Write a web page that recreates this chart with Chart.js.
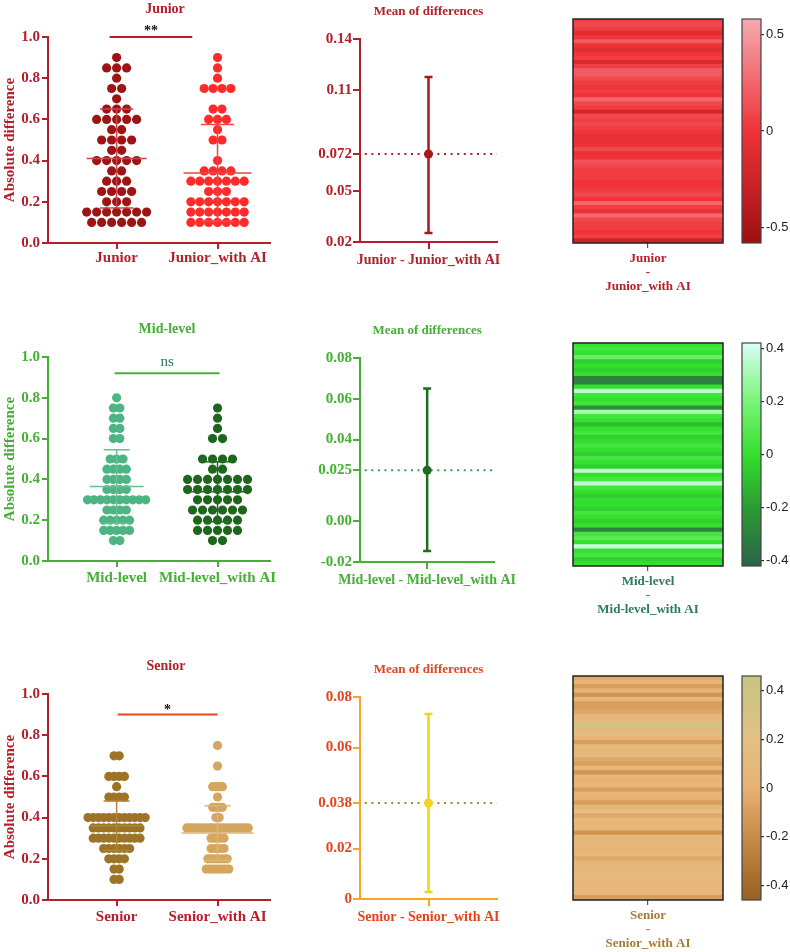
<!DOCTYPE html>
<html>
<head>
<meta charset="utf-8">
<script src="https://cdn.jsdelivr.net/npm/chart.js@4.4.1/dist/chart.umd.min.js"></script>
<style>
  html, body { margin: 0; padding: 0; background: #fff; }
  body { position: relative; width: 790px; height: 952px; overflow: hidden; }
  canvas { position: absolute; }
</style>
</head>
<body>
<script>
// ---- data ----
const levels = [0.1, 0.15, 0.2, 0.25, 0.3, 0.35, 0.4, 0.45, 0.5, 0.55, 0.6, 0.65, 0.7, 0.75, 0.8, 0.85, 0.9];

// number of subjects at each level (one dot each)
const juniorCounts   = [6, 7, 3, 4, 3, 2, 5, 2, 4, 2, 5, 3, 1, 2, 1, 3, 1];
const juniorAICounts = [7, 7, 7, 3, 7, 4, 1, 0, 2, 1, 3, 2, 0, 4, 1, 1, 1];
const midCounts      = [2, 5, 5, 4, 10, 4, 4, 4, 3, 0, 2, 2, 2, 2, 1, 0, 0];
const midAICounts    = [2, 5, 5, 6, 5, 7, 7, 2, 4, 0, 2, 1, 1, 1, 0, 0, 0];
const seniorCounts   = [2, 2, 4, 6, 10, 10, 12, 0, 4, 1, 4, 0, 2, 0, 0, 0, 0];
const seniorAICounts = [0, 8, 7, 5, 5, 20, 2, 4, 1, 4, 0, 1, 0, 1, 0, 0, 0];

const juniorMeans = [0.41, 0.34];
const juniorSDs   = [0.24, 0.235];
const midMeans    = [0.365, 0.34];
const midSDs      = [0.18, 0.147];
const seniorMeans = [0.36, 0.325];
const seniorSDs   = [0.12, 0.133];

const panelTitles = ['Junior', 'Mid-level', 'Senior'];
const groupNames  = [['Junior', 'Junior_with AI'], ['Mid-level', 'Mid-level_with AI'], ['Senior', 'Senior_with AI']];
const sigMarks    = ['**', 'ns', '*'];
const sigLevels   = [1.0, 0.92, 0.9];

// mean of differences with 95% CI
const diffMeans = [0.072, 0.025, 0.038];
const diffLows  = [0.0253, -0.0146, 0.0028];
const diffHighs = [0.1175, 0.065, 0.0733];
const juniorDiffTicks = [0.02, 0.05, 0.072, 0.11, 0.14];
const juniorDiffTickLabels = ['0.02', '0.05', '0.072', '0.11', '0.14'];
const midDiffTicks = [-0.02, 0, 0.025, 0.04, 0.06, 0.08];
const midDiffTickLabels = ['-0.02', '0.00', '0.025', '0.04', '0.06', '0.08'];
const seniorDiffTicks = [0, 0.02, 0.038, 0.06, 0.08];
const seniorDiffTickLabels = ['0', '0.02', '0.038', '0.06', '0.08'];

// per-subject differences (heatmap rows, top to bottom)
const juniorDiffs = [0.05, 0.1, 0.05, -0.1, 0.0, 0.2, 0.0, -0.1, 0.0, 0.05, -0.15, 0.05, 0.2, 0.2, 0.1, 0.05, 0.0, 0.05,
  0.0, 0.25, 0.1, 0.05, -0.2, 0.1, 0.05, 0.1, 0.05, 0.0, -0.05, -0.05, 0.0, 0.1, -0.05, 0.0, 0.15, 0.1, 0.05, 0.05,
  0.05, 0.0, 0.0, 0.05, 0.1, 0.0, 0.25, 0.05, -0.05, 0.25, 0.1, 0.05, 0.05, 0.0, 0.05, -0.25];
const midDiffs = [0.0, 0.05, 0.0, 0.15, -0.05, 0.0, -0.05, 0.0, -0.3, -0.3, 0.0, 0.35, 0.05, 0.0, 0.05, -0.25, 0.3,
  0.05, 0.0, -0.1, 0.0, 0.05, -0.05, 0.0, 0.05, 0.0, -0.05, 0.05, 0.0, -0.05, 0.35, 0.0, 0.05, 0.35, 0.05, 0.0,
  -0.05, 0.0, 0.0, -0.05, 0.05, 0.0, -0.05, 0.0, -0.3, 0.05, 0.1, 0.0, 0.4, 0.0, 0.05, -0.05, 0.0];
const seniorDiffs = [-0.05, 0.05, -0.1, 0.0, -0.15, 0.05, -0.1, -0.1, -0.05, 0.05, 0.1, 0.4, 0.1, 0.15, 0.05, -0.1,
  0.1, 0.05, 0.1, -0.05, -0.1, 0.05, -0.15, 0.05, 0.0, 0.05, -0.1, 0.05, 0.0, -0.1, 0.05, 0.2, -0.05, 0.1, 0.05,
  0.05, -0.15, 0.05, 0.1, 0.05, 0.0, 0.1, -0.05, 0.05, 0.1, 0.05, 0.1, 0.1, 0.05, 0.1, 0.05, -0.1];

const colorbarRanges = [0.58, 0.42, 0.46];
const colorbarTicks = [[-0.5, 0, 0.5], [-0.4, -0.2, 0, 0.2, 0.4], [-0.4, -0.2, 0, 0.2, 0.4]];

// ---- styles ----
Chart.defaults.font.family = "'Liberation Serif', 'Times New Roman', serif";
Chart.defaults.font.weight = 'bold';
Chart.defaults.animation = false;
Chart.defaults.plugins.legend.display = false;
Chart.defaults.plugins.tooltip.enabled = false;

const rowStyle = [
  { top: 0, axis: '#b3202a', title: '#b3202a', dots: ['#9e1414', '#ff2a2a'], lines: ['#c9464c', '#f24444'],
    steps: [0.099, 0.088], meanHalf: [30, 34], cap: [16.7, 16.7], sig: { from: -0.07, to: 0.75, color: '#b3202a', text: '#111', gap: 2, font: 'bold 14px "Liberation Serif"' },
    sPad: 37, sXh: 37, sXpad: 0, titleDx: 6,
    dAxis: '#b3202a', dText: '#b3202a', dMark: '#a8181c', dDot: '#b3202a', dPad: 39, dXh: 38,
    stops: [[-0.58, '#9e0f12'], [0, '#ef3339'], [0.58, '#f5aab0']], hLabel: '#b3202a', hPad: 19, hH: 300, hXh: 57, cPad: 19, cBot: 17 },
  { top: 320, axis: '#45b035', title: '#45b035', dots: ['#4db583', '#1f661d'], lines: ['#62c292', '#216b21'],
    steps: [0.064, 0.099], meanHalf: [27, 27], cap: [13, 13], sig: { from: -0.02, to: 1.02, color: '#45b035', text: '#2f7060', gap: 7, font: 'normal 15px "Liberation Serif"' },
    sPad: 37, sXh: 39, sXpad: 2, titleDx: 8,
    dAxis: '#45b035', dText: '#45b035', dMark: '#1f6b1f', dDot: '#3c9a50', dPad: 38, dXh: 38,
    stops: [[-0.42, '#2b6449'], [-0.2, '#2c9b33'], [0, '#33e02e'], [0.2, '#7af47a'], [0.42, '#d8fff2']], hLabel: '#2e7a5a', hPad: 23, hH: 310, hXh: 64, cPad: 23, cBot: 14 },
  { top: 656, axis: '#b3202a', title: '#b3202a', dots: ['#9d7427', '#d4a65e'], lines: ['#ad8536', '#dcb577'],
    steps: [0.0515, 0.032], meanHalf: [26, 36], cap: [13, 13], sig: { from: 0.01, to: 1.0, color: '#e04a1c', text: '#111', gap: 1, font: 'bold 14px "Liberation Serif"' },
    sPad: 38, sXh: 36, sXpad: 2, titleDx: 7,
    dAxis: '#f5a623', dText: '#e3461e', dMark: '#f2d41e', dDot: '#9a8a3c', dPad: 41, dXh: 37,
    stops: [[-0.46, '#966020'], [-0.2, '#c68b48'], [0, '#e8b274'], [0.2, '#e2c084'], [0.46, '#c6c580']], hLabel: '#a77a3a', hPad: 20, hH: 296, hXh: 52, cPad: 20, cBot: 16 }
];

function makeCanvas(left, top, w, h) {
  const c = document.createElement('canvas');
  c.width = w; c.height = h;
  c.style.left = left + 'px'; c.style.top = top + 'px';
  c.style.width = w + 'px'; c.style.height = h + 'px';
  document.body.appendChild(c);
  return c.getContext('2d');
}

// dots of a scatter dot plot, centred on their category
function swarm(counts, cat, step) {
  const pts = [];
  counts.forEach((n, i) => {
    for (let k = 0; k < n; k++) pts.push({ x: cat + (k - (n - 1) / 2) * step, y: levels[i] });
  });
  return pts;
}

function hexToRgb(h) {
  return [parseInt(h.slice(1, 3), 16), parseInt(h.slice(3, 5), 16), parseInt(h.slice(5, 7), 16)];
}
function colorAt(stops, v) {
  if (v <= stops[0][0]) return stops[0][1];
  for (let i = 1; i < stops.length; i++) {
    if (v <= stops[i][0]) {
      const t = (v - stops[i - 1][0]) / (stops[i][0] - stops[i - 1][0]);
      const a = hexToRgb(stops[i - 1][1]), b = hexToRgb(stops[i][1]);
      return 'rgb(' + a.map((c, j) => Math.round(c + (b[j] - c) * t)).join(',') + ')';
    }
  }
  return stops[stops.length - 1][1];
}

// extra marks: titles, mean/SD bars, significance bar, boxes
function overlay(cfg) {
  return {
    id: 'overlay',
    beforeDatasetsDraw(chart) {
      if (!cfg.gradient) return;
      const { ctx, chartArea: a, scales: { y } } = chart;
      const g = ctx.createLinearGradient(0, a.bottom, 0, a.top);
      const span = y.max - y.min;
      cfg.gradient.forEach(s => g.addColorStop(Math.min(1, Math.max(0, (s[0] - y.min) / span)), s[1]));
      ctx.save();
      ctx.fillStyle = g;
      ctx.fillRect(a.left, a.top, a.right - a.left, a.bottom - a.top);
      ctx.restore();
    },
    afterDatasetsDraw(chart) {
      const { ctx, chartArea: a, scales: { x, y } } = chart;
      ctx.save();
      (cfg.bars || []).forEach(b => {
        const cx = x.getPixelForValue(b.x);
        const yl = y.getPixelForValue(b.lo), yh = y.getPixelForValue(b.hi);
        ctx.strokeStyle = b.color; ctx.lineWidth = b.width;
        ctx.beginPath();
        ctx.moveTo(cx, yl); ctx.lineTo(cx, yh);
        ctx.moveTo(cx - b.cap, yl); ctx.lineTo(cx + b.cap, yl);
        ctx.moveTo(cx - b.cap, yh); ctx.lineTo(cx + b.cap, yh);
        if (b.mid !== undefined) {
          const ym = y.getPixelForValue(b.mid);
          ctx.moveTo(cx - b.midHalf, ym); ctx.lineTo(cx + b.midHalf, ym);
        }
        ctx.stroke();
      });
      if (cfg.sig) {
        const s = cfg.sig;
        const ys = y.getPixelForValue(s.level);
        const x0 = x.getPixelForValue(s.from), x1 = x.getPixelForValue(s.to);
        ctx.strokeStyle = s.color; ctx.lineWidth = 2;
        ctx.beginPath(); ctx.moveTo(x0, ys); ctx.lineTo(x1, ys); ctx.stroke();
        ctx.fillStyle = s.textColor; ctx.font = s.font;
        ctx.textAlign = 'center'; ctx.textBaseline = 'alphabetic';
        ctx.fillText(s.text, (x0 + x1) / 2, ys - s.gap);
      }
      if (cfg.title) {
        ctx.fillStyle = cfg.title.color; ctx.font = cfg.title.font;
        ctx.textAlign = 'center'; ctx.textBaseline = 'middle';
        ctx.fillText(cfg.title.text, (a.left + a.right) / 2 + (cfg.title.dx || 0), a.top - cfg.title.lift);
      }
      if (cfg.box) {
        ctx.strokeStyle = cfg.box; ctx.lineWidth = cfg.boxWidth || 1.5;
        ctx.strokeRect(a.left, a.top, a.right - a.left, a.bottom - a.top);
      }
      ctx.restore();
    }
  };
}

function axisStyle(color, tickLength) {
  return {
    grid: { drawOnChartArea: false, drawTicks: true, tickLength: tickLength, color: color, lineWidth: 2 },
    border: { color: color, width: 2 }
  };
}

// ---- left column: scatter dot plots ----
function scatterPanel(r, counts, means, sds) {
  const st = rowStyle[r];
  const ctx = makeCanvas(0, st.top, 290, 280);
  const names = groupNames[r];
  new Chart(ctx, {
    type: 'scatter',
    data: {
      datasets: [0, 1].map(g => ({
        data: swarm(counts[g], g, st.steps[g]),
        backgroundColor: st.dots[g], pointRadius: 4.6, borderWidth: 0
      }))
    },
    options: {
      responsive: false, devicePixelRatio: 1,
      layout: { padding: { top: st.sPad, right: 20, left: 0, bottom: 0 } },
      scales: {
        x: Object.assign({
          type: 'linear', min: -0.68, max: 1.52,
          afterFit: s => { s.height = st.sXh; },
          afterBuildTicks: s => { s.ticks = [{ value: 0 }, { value: 1 }]; },
          ticks: { callback: v => names[v], color: st.axis, font: { size: 15, weight: 'bold' }, padding: st.sXpad, maxRotation: 0, autoSkip: false }
        }, axisStyle(st.axis, 6)),
        y: Object.assign({
          min: 0, max: 1,
          afterFit: s => { s.width = 48; },
          ticks: { stepSize: 0.2, callback: v => v.toFixed(1), color: st.axis, font: { size: 15, weight: 'bold' }, padding: 2 },
          title: { display: true, text: 'Absolute difference', color: st.axis, font: { size: 15, weight: 'bold' }, padding: { top: 1, bottom: 0 } }
        }, axisStyle(st.axis, 6))
      }
    },
    plugins: [overlay({
      title: { text: panelTitles[r], color: st.title, font: 'bold 14px "Liberation Serif"', dx: st.titleDx, lift: 28 },
      bars: [0, 1].map(g => ({
        x: g, lo: means[g] - sds[g], hi: means[g] + sds[g], mid: means[g],
        cap: st.cap[g], midHalf: st.meanHalf[g], color: st.lines[g], width: 1.5
      })),
      sig: { level: sigLevels[r], from: st.sig.from, to: st.sig.to, color: st.sig.color, text: sigMarks[r], textColor: st.sig.text, gap: st.sig.gap, font: st.sig.font }
    })]
  });
}

// ---- middle column: mean of differences ----
function diffPanel(r, ticks, tickLabels) {
  const st = rowStyle[r];
  const ctx = makeCanvas(290, st.top, 250, 280);
  const mean = diffMeans[r];
  new Chart(ctx, {
    type: 'scatter',
    data: {
      datasets: [
        { data: [{ x: 0, y: mean }], backgroundColor: st.dMark, pointRadius: 4.5, borderWidth: 0 },
        { type: 'line', data: [{ x: -0.93, y: mean }, { x: 1, y: mean }], borderColor: st.dDot, borderWidth: 2,
          borderDash: [2, 4.6], pointRadius: 0, fill: false }
      ]
    },
    options: {
      responsive: false, devicePixelRatio: 1,
      layout: { padding: { top: st.dPad, right: 43, left: 0, bottom: 0 } },
      scales: {
        x: Object.assign({
          type: 'linear', min: -1, max: 1,
          afterFit: s => { s.height = st.dXh; },
          afterBuildTicks: s => { s.ticks = [{ value: 0 }]; },
          ticks: { callback: () => groupNames[r][0] + ' - ' + groupNames[r][1], color: st.dText, font: { size: 14, weight: 'bold' }, padding: 2.5, maxRotation: 0 }
        }, axisStyle(st.dAxis, 7)),
        y: Object.assign({
          min: ticks[0], max: ticks[ticks.length - 1],
          afterFit: s => { s.width = 70; },
          afterBuildTicks: s => { s.ticks = ticks.map(v => ({ value: v })); },
          ticks: { callback: (v, i) => tickLabels[i], color: st.dText, font: { size: 15, weight: 'bold' }, padding: 1 }
        }, axisStyle(st.dAxis, 7))
      }
    },
    plugins: [overlay({
      title: { text: 'Mean of differences', color: st.dText, font: 'bold 13px "Liberation Serif"', lift: 27 },
      bars: [{ x: 0, lo: diffLows[r], hi: diffHighs[r], cap: 4, color: st.dMark, width: 2.5 }]
    })]
  });
}

// ---- right column: heatmap of paired differences + colour bar ----
function heatPanel(r, diffs) {
  const st = rowStyle[r];
  const ctx = makeCanvas(540, st.top, 200, st.hH);
  const label = [groupNames[r][0], '-', groupNames[r][1]];
  new Chart(ctx, {
    type: 'bar',
    data: {
      labels: diffs.map((d, i) => i + 1),
      datasets: [{
        data: diffs.map(() => 1),
        backgroundColor: diffs.map(d => colorAt(st.stops, d)),
        borderWidth: 0, barPercentage: 1, categoryPercentage: 1, inflateAmount: 0.6
      }]
    },
    options: {
      indexAxis: 'y', responsive: false, devicePixelRatio: 1,
      layout: { padding: { top: st.hPad, right: 17, left: 33, bottom: 0 } },
      scales: {
        y: { display: false },
        x: {
          type: 'linear', min: 0, max: 1,
          afterFit: s => { s.height = st.hXh; },
          afterBuildTicks: s => { s.ticks = [{ value: 0.5 }]; },
          ticks: { callback: () => label, color: st.hLabel, font: { size: 13, weight: 'bold', lineHeight: 1.1 }, padding: 3, maxRotation: 0 },
          grid: { drawOnChartArea: false, drawTicks: true, tickLength: 5, color: '#555', lineWidth: 1.2 },
          border: { display: false }
        }
      }
    },
    plugins: [overlay({ box: '#222', boxWidth: 1.5 })]
  });

  const cctx = makeCanvas(730, st.top, 60, 260);
  const range = colorbarRanges[r];
  new Chart(cctx, {
    type: 'scatter',
    data: { datasets: [] },
    options: {
      responsive: false, devicePixelRatio: 1,
      layout: { padding: { top: st.cPad, right: 0, left: 12, bottom: st.cBot } },
      scales: {
        x: { type: 'linear', display: false, min: 0, max: 1 },
        y: {
          type: 'linear', position: 'right', min: -range, max: range,
          afterFit: s => { s.width = 29; },
          afterBuildTicks: s => { s.ticks = colorbarTicks[r].map(v => ({ value: v })); },
          ticks: { callback: v => (v === 0 ? '0' : String(v)), color: '#222', font: { family: "'Liberation Sans', Arial, sans-serif", size: 13, weight: 'normal' }, padding: 2 },
          grid: { drawOnChartArea: false, drawTicks: true, tickLength: 3, color: '#333', lineWidth: 1.2 },
          border: { display: false }
        }
      }
    },
    plugins: [overlay({ gradient: st.stops, box: '#444', boxWidth: 1.2 })]
  });
}

scatterPanel(0, [juniorCounts, juniorAICounts], juniorMeans, juniorSDs);
scatterPanel(1, [midCounts, midAICounts], midMeans, midSDs);
scatterPanel(2, [seniorCounts, seniorAICounts], seniorMeans, seniorSDs);

diffPanel(0, juniorDiffTicks, juniorDiffTickLabels);
diffPanel(1, midDiffTicks, midDiffTickLabels);
diffPanel(2, seniorDiffTicks, seniorDiffTickLabels);

heatPanel(0, juniorDiffs);
heatPanel(1, midDiffs);
heatPanel(2, seniorDiffs);
</script>
</body>
</html>
